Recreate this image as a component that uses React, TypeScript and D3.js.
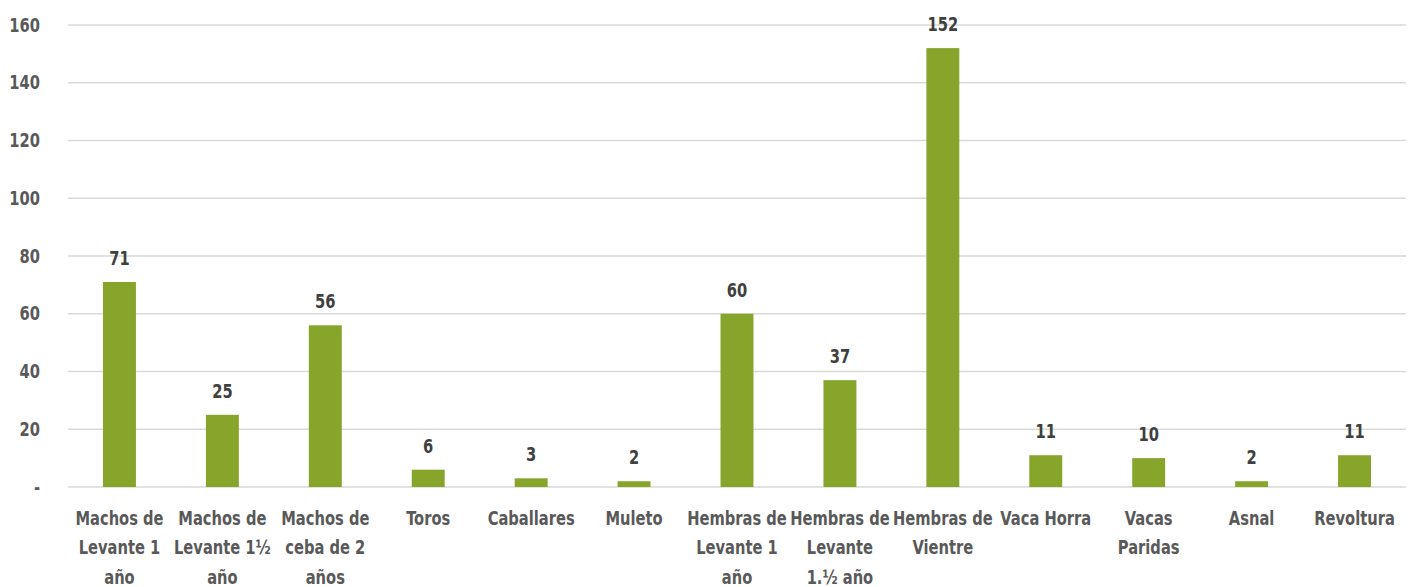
import React from 'react';
import * as d3 from 'd3';

const categories: string[][] = [
  ['Machos de', 'Levante 1', 'año'],
  ['Machos de', 'Levante 1½', 'año'],
  ['Machos de', 'ceba de 2', 'años'],
  ['Toros'],
  ['Caballares'],
  ['Muleto'],
  ['Hembras de', 'Levante 1', 'año'],
  ['Hembras de', 'Levante', '1.½ año'],
  ['Hembras de', 'Vientre'],
  ['Vaca Horra'],
  ['Vacas', 'Paridas'],
  ['Asnal'],
  ['Revoltura'],
];
const values: number[] = [71, 25, 56, 6, 3, 2, 60, 37, 152, 11, 10, 2, 11];
const yTicks: number[] = [0, 20, 40, 60, 80, 100, 120, 140, 160];

const W = 1413;
const H = 587;
const FONT = "'DejaVu Sans Condensed', 'Liberation Sans Narrow', sans-serif";
const SQUEEZE = 0.86; // narrow the condensed font a bit more

export default function App() {
  const margin = { left: 68, right: 7, top: 25, bottom: 100 };
  const keys = categories.map((c, i) => `${i}`);

  const x = d3.scaleBand()
    .domain(keys)
    .range([margin.left, W - margin.right])
    .paddingInner(0.68)
    .paddingOuter(0.34);

  const y = d3.scaleLinear()
    .domain([0, 160])
    .range([H - margin.bottom, margin.top]);

  const grid = yTicks.map((t) => (
    <g key={t}>
      <line x1={margin.left} x2={W - margin.right} y1={y(t)} y2={y(t)} stroke='#d9d9d9' strokeWidth={1.5} />
      <text transform={`translate(40,${y(t)}) scale(${SQUEEZE},1)`} dy='0.35em' textAnchor='end' fill='#595959' fontSize={19} fontWeight='bold'>
        {t === 0 ? '-' : t}
      </text>
    </g>
  ));

  const bars = values.map((v, i) => {
    const bx = x(keys[i]) as number;
    return (
      <g key={i}>
        <rect x={bx} y={y(v)} width={x.bandwidth()} height={y(0) - y(v)} fill='#87a42b' />
        <text transform={`translate(${bx + x.bandwidth() / 2},${y(v) - 17}) scale(${SQUEEZE},1)`} textAnchor='middle' fill='#404040' fontSize={19} fontWeight='bold'>
          {v}
        </text>
      </g>
    );
  });

  const labels = categories.map((lines, i) => {
    const cx = (x(keys[i]) as number) + x.bandwidth() / 2;
    return (
      <text key={i} transform={`translate(${cx},${y(0) + 38}) scale(${SQUEEZE},1)`} textAnchor='middle' fill='#595959' fontSize={19} fontWeight='bold'>
        {lines.map((l, j) => (
          <tspan key={j} x={0} dy={j === 0 ? 0 : 29.5}>{l}</tspan>
        ))}
      </text>
    );
  });

  return (
    <svg width={W} height={H} style={{ position: 'absolute', left: 0, top: 0, fontFamily: FONT, background: '#fff' }}>
      {grid}
      {bars}
      {labels}
    </svg>
  );
}
